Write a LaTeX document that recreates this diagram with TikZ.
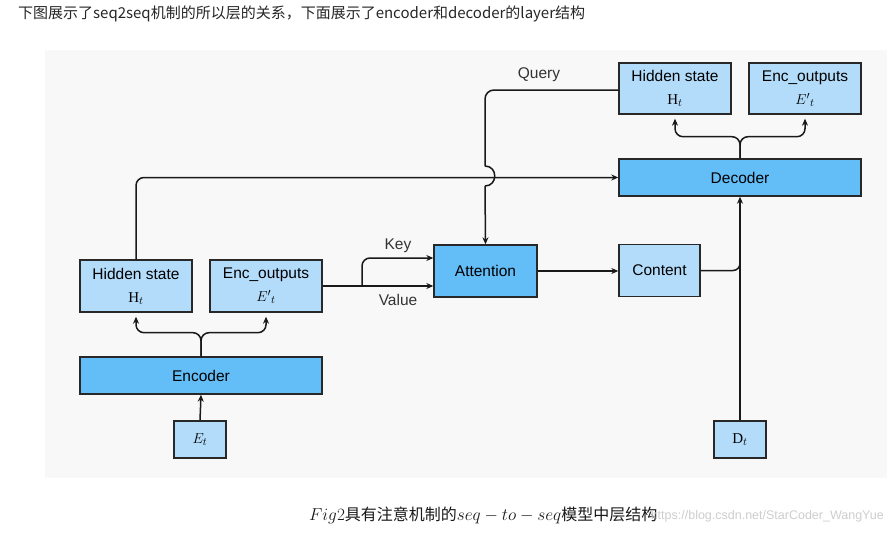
\documentclass[tikz,border=0pt]{standalone}
\usepackage{fontspec}
\setmainfont{Liberation Sans}
\newfontfamily\cjk{Noto Sans CJK SC}
\newfontfamily\serifr{Liberation Serif}
\usetikzlibrary{arrows.meta,calc}
\definecolor{lightbox}{RGB}{179,220,250}
\definecolor{darkbox}{RGB}{99,190,248}
\definecolor{edgec}{RGB}{40,40,40}
\definecolor{panel}{RGB}{248,248,248}
\definecolor{wmark}{RGB}{205,205,205}
\tikzset{
  lbox/.style={draw=edgec,line width=1.4pt,fill=lightbox,inner sep=0pt,align=center,font=\fontsize{15.5}{18}\selectfont},
  dbox/.style={draw=edgec,line width=1.4pt,fill=darkbox,inner sep=0pt,align=center,font=\fontsize{15.5}{18}\selectfont},
  conn/.style={line width=1.5pt,draw=black!90},
  arr/.style={conn,-{Stealth[length=7pt,width=6pt]}},
  lbl/.style={font=\fontsize{15.5}{18}\selectfont,text=black!80,inner sep=0pt},
}
\newcommand{\mathline}[1]{\fontsize{15}{15}\selectfont #1}
\newcommand{\Hsym}{{\serifr H}$_t$}
\newcommand{\Dsym}{{\serifr D}$_t$}
\begin{document}
\begin{tikzpicture}[x=1pt,y=-1pt]
\useasboundingbox (0,0) rectangle (889,535);
\fill[panel] (45,50) rectangle (887,478);
% header text
\node[anchor=west,inner sep=0pt,font=\cjk\fontsize{15}{17}\selectfont,text=black!85] (hdr) at (18,14) {下图展示了seq2seq机制的所以层的关系，下面展示了encoder和decoder的layer结构};
% nodes
\node[lbox,minimum width=112pt,minimum height=52pt] (hsL) at (136,286) {Hidden state\\[5pt]\mathline{\Hsym}};
\node[lbox,minimum width=112pt,minimum height=52pt] (encL) at (266,286) {Enc\_outputs\\[5pt]\mathline{$E'{}_t$}};
\node[dbox,minimum width=242pt,minimum height=37pt] (enc) at (201,375.5) {Encoder};
\node[lbox,minimum width=52pt,minimum height=37pt] (et) at (200,439.5) {\mathline{$E_t$}};
\node[dbox,minimum width=103pt,minimum height=52pt] (att) at (485.5,271) {Attention};
\node[lbox,minimum width=81pt,minimum height=52pt] (cont) at (659.5,270.5) {Content};
\node[dbox,minimum width=242pt,minimum height=37pt] (dec) at (740,177.5) {Decoder};
\node[lbox,minimum width=112pt,minimum height=51pt] (hsT) at (675,88.5) {Hidden state\\[5pt]\mathline{\Hsym}};
\node[lbox,minimum width=112pt,minimum height=51pt] (encT) at (805,88.5) {Enc\_outputs\\[5pt]\mathline{$E'{}_t$}};
\node[lbox,minimum width=52pt,minimum height=37pt] (dt) at (740,439.5) {\mathline{\Dsym}};
% labels
\node[lbl] (qlbl) at (539,75) {Query};
\node[lbl] (klbl) at (398,246) {Key};
\node[lbl] (vlbl) at (398,300) {Value};
% encoder fork
\draw[arr,rounded corners=8pt,shorten >=4pt] (enc.north) |- ($(hsL.south)+(0,20)$) -- (hsL.south);
\draw[arr,rounded corners=8pt,shorten >=4pt] (enc.north) |- ($(encL.south)+(0,20)$) -- (encL.south);
\draw[arr] (et.north) -- (enc.south);
% decoder fork
\draw[arr,rounded corners=8pt,shorten >=4pt] (dec.north) |- ($(hsT.south)+(0,22)$) -- (hsT.south);
\draw[arr,rounded corners=8pt,shorten >=4pt] (dec.north) |- ($(encT.south)+(0,22)$) -- (encT.south);
% hidden state to decoder
\draw[arr,rounded corners=8pt] (hsL.north) |- (dec.west);
% key / value
\coordinate (kv) at (362,286);
\draw[arr] (encL.east) -- (att.west |- encL.east);
\draw[arr,rounded corners=8pt] (kv) |- ([yshift=13pt]att.west);
% query with hop
\coordinate (q1) at (485,166);
\coordinate (q2) at (485,186);
\draw[conn,rounded corners=9pt] (hsT.west |- 0,90) -- (485,90) -- (q1);
\draw[conn] (q1) .. controls (498,166) and (498,186) .. (q2);
\draw[arr] (q2) -- (att.north);
% attention -> content
\draw[arr] (att.east) -- (cont.west |- att.east);
% content -> decoder line, D_t -> decoder
\coordinate (j) at (740,240);
\draw[conn,rounded corners=7pt] (cont.east) -| (j);
\draw[arr] (dt.north) -- (dec.south);
% caption & watermark
\node[anchor=west,inner sep=0pt,font=\cjk\fontsize{16}{18}\selectfont,text=black!90] (cap) at (309,515) {$Fig2$具有注意机制的$seq-to-seq$模型中层结构};
\node[anchor=east,inner sep=0pt,font=\fontsize{12.5}{15}\selectfont,text=wmark] (wm) at (884,516) {https://blog.csdn.net/StarCoder\_WangYue};
\end{tikzpicture}
\end{document}
